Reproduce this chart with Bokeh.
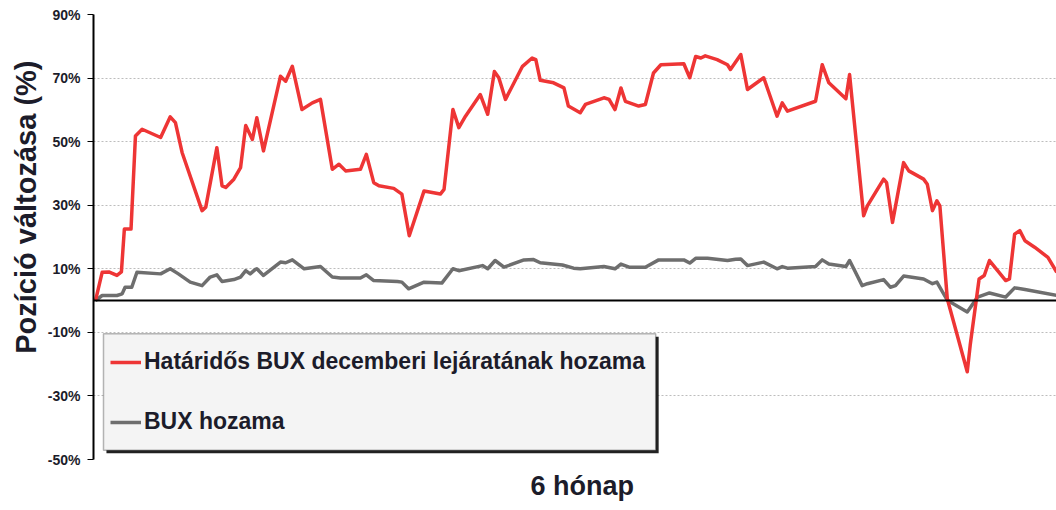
from bokeh.plotting import figure
from bokeh.models import (Range1d, Span, Title, Legend, LegendItem, BoxAnnotation,
                          FixedTicker, ColumnDataSource)
from bokeh.embed import file_html
from bokeh.resources import INLINE

# ---- data (trading day index within the 6 months, return in %) ----
futures_day = [0, 0.9, 1.8, 2.9, 3.5, 3.9, 4.8, 5.4, 6.3, 8.8, 10.1, 10.8, 11.7, 14.4, 14.9,
               16.4, 17.1, 17.6, 18.7, 19.6, 20.3, 21.2, 21.8, 22.7, 25.0, 25.7, 26.6, 27.9,
               29.3, 30.4, 32.0, 32.9, 33.8, 35.8, 36.6, 37.6, 38.3, 40.3, 41.4, 42.4, 44.4,
               46.6, 47.1, 48.3, 49.1, 50.0, 52.0, 53.0, 53.9, 54.5, 55.4, 57.7, 59.0, 59.5,
               60.1, 61.9, 63.3, 63.9, 65.5, 66.2, 68.7, 69.4, 70.2, 71.0, 71.6, 73.4, 74.3,
               75.4, 76.4, 79.5, 80.3, 81.1, 81.8, 82.4, 84.0, 85.4, 85.8, 87.2, 88.1, 90.3,
               92.1, 92.8, 93.5, 97.3, 98.2, 99.1, 101.4, 101.9, 103.8, 104.3, 106.5, 106.9,
               107.7, 109.2, 109.9, 111.9, 112.4, 113.1, 113.7, 114.1, 115.1, 117.8, 118.2,
               119.1, 119.4, 120.1, 120.8, 123.0, 123.5, 124.2, 124.9, 125.6, 126.9, 128.7,
               129.9]
futures_ret = [0, 8.9, 9.0, 7.9, 9.0, 22.5, 22.5, 51.8, 53.9, 51.3, 57.8, 56.0, 46.6, 28.3, 29.4,
               48.1, 36.1, 35.6, 38.2, 41.8, 55.1, 50.7, 57.5, 47.1, 70.6, 69.0, 73.7, 60.1,
               62.2, 63.3, 41.3, 42.9, 40.8, 41.3, 46.0, 37.1, 36.1, 35.3, 33.5, 20.4, 34.5,
               33.5, 35.0, 60.1, 54.4, 58.0, 64.8, 58.6, 72.1, 70.1, 63.3, 73.7, 76.3, 75.8,
               69.3, 68.5, 66.9, 61.2, 59.1, 61.7, 63.8, 63.3, 60.1, 66.9, 62.7, 61.2, 61.7,
               71.6, 74.2, 74.5, 70.1, 76.8, 76.3, 77.0, 75.8, 74.2, 72.7, 77.4, 66.4, 70.1,
               58.0, 62.2, 59.6, 62.7, 74.2, 68.5, 63.5, 71.1, 26.7, 29.8, 38.2, 37.1,
               24.6, 43.4, 40.8, 38.2, 36.6, 28.3, 31.4, 29.8, 0.6, -22.4, -14.0,
               1.6, 6.8, 7.9, 12.6, 6.3, 6.8, 20.9, 22.0, 18.8, 16.8, 13.6,
               8.9]

bux_day = [0, 0.9, 2.9, 3.6, 4.0, 4.9, 5.6, 8.8, 10.1, 11.2, 12.8, 14.4, 15.5, 16.4, 17.1,
           18.7, 19.6, 20.3, 20.9, 21.6, 21.8, 22.7, 25.0, 25.7, 26.6, 28.2, 30.4, 32.0, 33.1,
           35.8, 36.6, 37.6, 40.8, 41.4, 42.3, 44.4, 46.8, 48.3, 49.1, 52.3, 53.0, 54.0, 55.2,
           57.9, 59.2, 60.1, 63.1, 64.6, 65.5, 68.7, 70.2, 71.0, 72.1, 74.3, 76.1, 79.5, 80.3,
           81.1, 82.7, 85.4, 86.5, 87.2, 88.1, 90.3, 92.1, 92.8, 93.5, 97.3, 98.2, 99.1, 101.4,
           101.9, 102.7, 103.6, 104.3, 106.5, 107.4, 108.1, 109.2, 111.9, 113.1, 113.7, 115.1,
           117.8, 119.2, 120.8, 123.0, 124.2, 125.6, 129.9]
bux_ret = [0, 1.6, 1.6, 2.1, 4.2, 4.2, 8.9, 8.4, 10.0, 8.4, 5.8, 4.7, 7.4, 8.1, 6.0,
           6.6, 7.4, 9.4, 8.4, 9.8, 10.0, 7.9, 12.1, 11.9, 12.8, 10.0, 10.7, 7.4, 7.1,
           7.1, 8.1, 6.3, 6.0, 5.8, 3.7, 5.8, 5.5, 10.0, 9.4, 11.0, 10.0, 12.6, 10.5,
           12.8, 12.9, 11.9, 11.2, 10.2, 10.0, 10.7, 10.0, 11.5, 10.5, 10.5, 12.8, 12.8, 11.8,
           13.3, 13.3, 12.6, 13.0, 13.1, 11.0, 12.1, 10.0, 10.7, 10.2, 10.7, 12.8, 11.5, 10.7,
           12.6, 8.9, 4.7, 5.3, 6.6, 4.2, 4.7, 7.7, 6.8, 5.3, 5.8, 0.1,
           -3.6, 1.1, 2.4, 1.1, 4.0, 3.5, 1.6]

y_ticks = [-50, -30, -10, 10, 30, 50, 70, 90]
y_tick_labels = ["-50%", "-30%", "-10%", "10%", "30%", "50%", "70%", "90%"]
series_names = ["Határidős BUX decemberi lejáratának hozama", "BUX hozama"]
y_title = "Pozíció változása (%)"
x_title = "6 hónap"

FONT = "Liberation Sans"
RED = "#ee3535"
GRAY = "#6e6e6e"
INK = "#1c1c2a"

p = figure(width=1056, height=510, x_range=Range1d(-0.27, 129.86), y_range=Range1d(-50, 90),
           output_backend="svg", toolbar_location=None,
           min_border_left=93, min_border_right=0, min_border_top=14, min_border_bottom=50)
p.outline_line_color = None
p.background_fill_color = "white"
p.xaxis.visible = False
p.xgrid.visible = False

ax = p.yaxis[0]
ax.ticker = FixedTicker(ticks=y_ticks)
ax.major_label_overrides = {t: l for t, l in zip(y_ticks, y_tick_labels)}
ax.axis_line_color = "black"
ax.axis_line_width = 2
ax.major_tick_out = 6
ax.major_tick_in = 0
ax.major_tick_line_color = "black"
ax.major_tick_line_width = 1
ax.minor_tick_out = 0
ax.minor_tick_in = 0
ax.major_label_standoff = 7
ax.major_label_text_font = FONT
ax.major_label_text_font_style = "bold"
ax.major_label_text_font_size = "14px"
ax.major_label_text_color = INK

p.ygrid.ticker = FixedTicker(ticks=y_ticks)
p.ygrid.grid_line_color = "#bdbdbd"
p.ygrid.grid_line_dash = "2 2"
p.ygrid.grid_line_width = 1

p.add_layout(Span(location=0, dimension="width", line_color="black", line_width=2))

src_f = ColumnDataSource(dict(x=futures_day, y=futures_ret))
src_b = ColumnDataSource(dict(x=bux_day, y=bux_ret))
r_b = p.line("x", "y", source=src_b, line_color=GRAY, line_width=3.5, line_join="round")
r_f = p.line("x", "y", source=src_f, line_color=RED, line_width=3.5, line_join="round")

# legend frame with shadow
p.add_layout(BoxAnnotation(left=1.48, right=76.1, top=-11.35, bottom=-48.0,
                           fill_color="#222222", fill_alpha=1, line_alpha=0, level="annotation"))
p.add_layout(BoxAnnotation(left=1.08, right=75.7, top=-10.4, bottom=-47.1,
                           fill_color="#f4f4f4", fill_alpha=1, line_color="#111111",
                           line_width=1.5, level="annotation"))

legend = Legend(items=[LegendItem(label=series_names[0], renderers=[r_f]),
                       LegendItem(label=series_names[1], renderers=[r_b])],
                location=(17, 24), orientation="vertical",
                background_fill_alpha=0, border_line_alpha=0,
                padding=0, margin=0, spacing=33,
                glyph_width=31, glyph_height=22, label_height=22, label_standoff=3,
                label_text_font=FONT, label_text_font_style="bold",
                label_text_font_size="23px", label_text_color=INK)
p.add_layout(legend)

p.add_layout(Title(text=y_title, align="right", offset=46, standoff=6,
                   text_font=FONT, text_font_style="bold", text_font_size="29px",
                   text_color=INK), "left")
p.add_layout(Title(text=x_title, align="left", offset=437, standoff=19,
                   text_font=FONT, text_font_style="bold", text_font_size="27px",
                   text_color=INK), "below")

open("out.html", "w").write(file_html(p, INLINE))
